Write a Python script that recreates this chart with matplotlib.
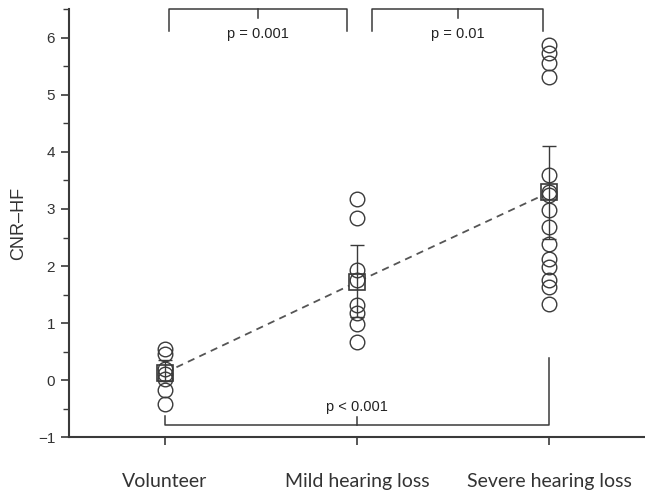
import numpy as np
import matplotlib
matplotlib.use('Agg')
import matplotlib.pyplot as plt
from matplotlib.ticker import MultipleLocator

matplotlib.rcParams['font.family'] = ['Liberation Sans', 'DejaVu Sans']

groups = ['Volunteer', 'Mild hearing loss', 'Severe hearing loss']
volunteer = [0.55, 0.45, 0.20, 0.10, 0.02, -0.18, -0.42]
mild = [3.17, 2.85, 1.93, 1.75, 1.31, 1.17, 0.99, 0.66]
severe = [5.87, 5.74, 5.56, 5.31, 3.59, 3.30, 3.24, 2.98, 2.68, 2.39,
          2.13, 1.98, 1.75, 1.63, 1.34]
means = [0.13, 1.72, 3.29]
err_low = [0.14, 0.61, 0.81]
err_high = [0.22, 0.64, 0.81]

col = '#3a3a3a'

fig = plt.figure(figsize=(6.45, 4.95), dpi=100)
ax = fig.add_axes([0.107, 0.117, 0.893, 0.864])

# dashed line through group means
xs = np.arange(len(groups))
ax.plot(xs, means, linestyle=(0, (4, 3)), color='#555555', lw=1.3, zorder=1)

# mean squares (white fill hides the dashed line inside)
ax.plot(xs, means, linestyle='none', marker='s', markersize=12,
        markerfacecolor='white', markeredgecolor=col, markeredgewidth=1.2, zorder=2)

for i, vals in enumerate([volunteer, mild, severe]):
    ax.plot([i] * len(vals), vals, linestyle='none', marker='o', markersize=10.5,
            markerfacecolor='none', markeredgecolor=col, markeredgewidth=1.0, zorder=3)

ax.errorbar(xs, means, yerr=[err_low, err_high], fmt='none', ecolor=col,
            elinewidth=1.0, capsize=5, capthick=1.0, zorder=4)

ax.set_xlim(-0.5, 2.5)
ax.set_ylim(-1, 6.5)
ax.yaxis.set_major_locator(MultipleLocator(1))
ax.yaxis.set_minor_locator(MultipleLocator(0.5))
ax.set_xticks(xs)
ax.set_xticklabels(groups, family='Lato', fontsize=14, color='#333333')
ax.tick_params(axis='x', direction='out', length=6, width=1.2, pad=20, colors=col)
ax.tick_params(axis='y', which='major', direction='out', length=6, width=1.2,
               pad=4, labelsize=11, colors=col)
ax.tick_params(axis='y', which='minor', direction='out', length=4, width=1.0, colors=col)
for lbl in ax.get_xticklabels():
    lbl.set_color('#333333')
for lbl in ax.get_yticklabels():
    lbl.set_color('#333333')

ax.spines['top'].set_visible(False)
ax.spines['right'].set_visible(False)
for s in ['left', 'bottom']:
    ax.spines[s].set_linewidth(1.5)
    ax.spines[s].set_color(col)

ax.set_ylabel('CNR\u2013HF', fontsize=13, color='#333333', labelpad=8)

# significance brackets
kw = dict(color=col, lw=1.1, clip_on=False, zorder=5)
ax.plot([0.02, 0.02, 0.95, 0.95], [6.12, 6.5, 6.5, 6.12], **kw)
ax.plot([0.485, 0.485], [6.5, 6.35], **kw)
ax.text(0.485, 6.07, 'p = 0.001', ha='center', va='center', fontsize=10.5, color='#222222')

ax.plot([1.08, 1.08, 1.97, 1.97], [6.12, 6.5, 6.5, 6.12], **kw)
ax.plot([1.525, 1.525], [6.5, 6.35], **kw)
ax.text(1.525, 6.07, 'p = 0.01', ha='center', va='center', fontsize=10.5, color='#222222')

ax.plot([0, 0, 2, 2], [-0.63, -0.79, -0.79, 0.38], **kw)
ax.plot([1, 1], [-0.79, -0.65], **kw)
ax.text(1, -0.47, 'p < 0.001', ha='center', va='center', fontsize=10.5, color='#222222')

fig.savefig('out.png', dpi=100)
